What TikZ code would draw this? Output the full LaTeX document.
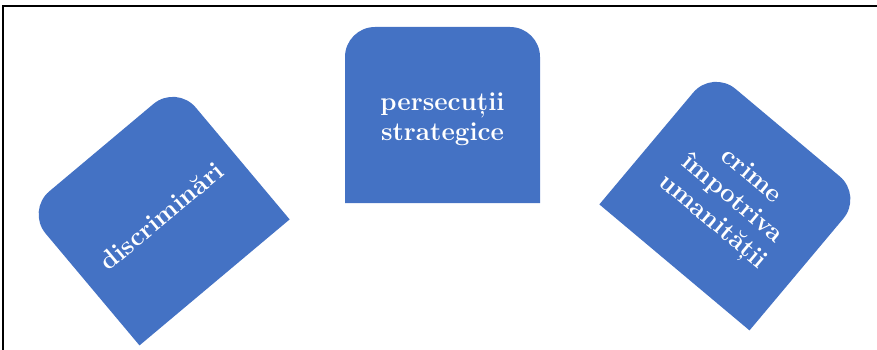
\documentclass[tikz,border=0pt]{standalone}
\usepackage{fontspec}
\usepackage{tikz}
\usetikzlibrary{positioning}

\definecolor{tabblue}{HTML}{4472C4}

\tikzset{
  tab/.style = { fill = tabblue },
  tablabel/.style = {
    transform shape,
    text = white,
    align = center,
    font = \bfseries\fontsize{26}{30}\selectfont,
  },
}

\newcommand{\tabshape}[3]{%
  \fill [tab] (-#1,-#2) -- (-#1,#2-#3) 
    arc [start angle = 180, end angle = 90, radius = #3 pt] -- (#1-#3,#2)
    arc [start angle = 90, end angle = 0, radius = #3 pt] -- (#1,-#2) -- cycle;%
}

\begin{document}
\begin{tikzpicture}[x = 1pt, y = 1pt]
      \useasboundingbox (0,0) rectangle (877,-350);
      \draw [line width = 1.2pt] (3,-350) -- (3,-6) -- (877,-6);

      \begin{scope}[shift = {(158,-215)}, rotate = 40]
        \tabshape{98}{88}{30}
        \node [tablabel] (discr) at (2,-3) {discriminări};
      \end{scope}

      \begin{scope}[shift = {(442.5,-115)}]
        \tabshape{97.5}{88}{30}
        \node [tablabel] (persec) at (0,-4) {persecuții\\strategice};
      \end{scope}

      \begin{scope}[shift = {(731,-200)}, rotate = -40]
        \tabshape{98}{88}{30}
        \node [tablabel] (crime) at (0,0) {crime\\împotriva\\umanității};
      \end{scope}
\end{tikzpicture}
\end{document}
